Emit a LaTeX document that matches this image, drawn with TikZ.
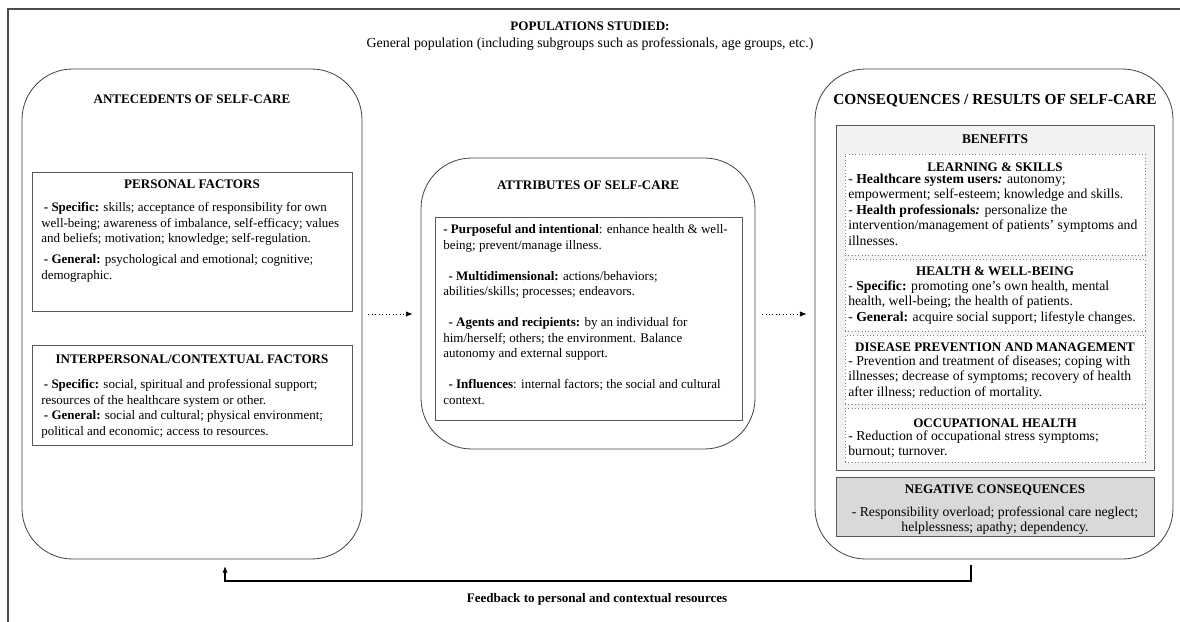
\documentclass[tikz,border=0pt]{standalone}
\usepackage{fontspec}
\setmainfont{Liberation Serif}
\usetikzlibrary{fit,arrows.meta}

\tikzset{
  frame/.style={draw=black!70, line width=1.3pt},
  bigbox/.style={draw=black!75, line width=0.6pt, rounded corners=38pt, inner sep=0pt},
  factbox/.style={draw=black!65, line width=0.5pt, inner sep=0pt},
  dotbox/.style={draw=black!50, dotted, line width=0.5pt, fill=white, inner sep=0pt},
  headtxt/.style={font=\fontsize{9.8}{11.6}\selectfont\bfseries, inner sep=0pt},
  subtxt/.style={font=\fontsize{9.8}{11.6}\selectfont\bfseries, inner sep=0pt},
  bodytxt/.style={font=\fontsize{9.75}{11.6}\selectfont, inner sep=0pt, align=left, anchor=north west},
  rbodytxt/.style={bodytxt, font=\fontsize{10.3}{11.6}\selectfont},
  flowarrow/.style={dotted, line width=0.6pt, -{Latex[length=5pt,width=4pt]}},
  fbarrow/.style={line width=0.9pt, -{Latex[length=5pt,width=4pt]}},
}

\begin{document}
\begin{tikzpicture}[x=0.75pt,y=0.75pt,yscale=-1,xscale=1]
\useasboundingbox (0,0) rectangle (1180,621);

%Shape: outer frame
\draw[frame] (8,640) -- (8,9) -- (1200,9);

% Text Node
\node[headtxt] (popTitle) at (590,26) {POPULATIONS STUDIED:};
% Text Node
\node[font=\fontsize{10.4}{12}\selectfont, inner sep=0pt] (popText) at (590,44) {General population (including subgroups such as professionals, age groups, etc.)};

%Shape: Antecedents
\node[bigbox, fit={(22,69) (362,559)}] (ante) {};
\node[headtxt] (anteTitle) at (192,99) {ANTECEDENTS OF SELF-CARE};
\node[factbox, fit={(32,172) (352,311)}] (pers) {};
\node[subtxt] (persTitle) at (192,184) {PERSONAL FACTORS};
\node[bodytxt] (persText) at (41,202.5) {\hspace{2pt}\textbf{- Specific:} skills; acceptance of responsibility for own\\
well-being; awareness of imbalance, self-efficacy; values\\
and beliefs; motivation; knowledge; self-regulation.\\[4pt]
\hspace{2pt}\textbf{- General:} psychological and emotional; cognitive;\\
demographic.};
\node[factbox, fit={(32,345) (352,445)}] (inter) {};
\node[subtxt] (interTitle) at (192,359) {INTERPERSONAL/CONTEXTUAL FACTORS};
\node[bodytxt] (interText) at (41,379.5) {\hspace{2pt}\textbf{- Specific:} social, spiritual and professional support;\\
resources of the healthcare system or other.\\
\hspace{2pt}\textbf{- General:} social and cultural; physical environment;\\
political and economic; access to resources.};

%Shape: Attributes
\node[bigbox, fit={(421,158) (755,449)}] (attr) {};
\node[headtxt] (attrTitle) at (588,185) {ATTRIBUTES OF SELF-CARE};
\node[factbox, fit={(435,217) (742,420)}] (attrIn) {};
\node[bodytxt] (attrText) at (443,224.5) {\textbf{- Purposeful and intentional}: enhance health \& well-\\
being; prevent/manage illness.\\[11.6pt]
\hspace{4pt}\textbf{- Multidimensional:} actions/behaviors;\\
abilities/skills; processes; endeavors.\\[11.6pt]
\hspace{4pt}\textbf{- Agents and recipients:} by an individual for\\
him/herself; others; the environment. Balance\\
autonomy and external support.\\[11.6pt]
\hspace{4pt}\textbf{- Influences}: internal factors; the social and cultural\\
context.};

%Shape: Consequences
\node[bigbox, fit={(815,69) (1173,559)}] (cons) {};
\node[headtxt, font=\fontsize{11.5}{12}\selectfont\bfseries] (consTitle) at (995,101) {CONSEQUENCES / RESULTS OF SELF-CARE};
\node[factbox, fill=black!5, fit={(836,125) (1154,470)}] (bene) {};
\node[headtxt, font=\fontsize{10}{12}\selectfont\bfseries] (beneTitle) at (995,139) {BENEFITS};

\node[dotbox, fit={(845,154) (1145,255)}] (learn) {};
\node[subtxt] (learnTitle) at (995,167) {LEARNING \& SKILLS};
\node[rbodytxt] (learnText) at (848,173.5) {- \textbf{Healthcare system users\textit{:}} autonomy;\\
empowerment; self-esteem; knowledge and skills.\\
- \textbf{Health professionals\textit{:}} personalize the\\
intervention/management of patients’ symptoms and\\
illnesses.};

\node[dotbox, fit={(845,259) (1145,331)}] (health) {};
\node[subtxt] (healthTitle) at (995,271) {HEALTH \& WELL-BEING};
\node[rbodytxt] (healthText) at (848,280.5) {- \textbf{Specific:} promoting one’s own health, mental\\
health, well-being; the health of patients.\\
- \textbf{General:} acquire social support; lifestyle changes.};

\node[dotbox, fit={(845,335) (1145,404)}] (disease) {};
\node[subtxt] (diseaseTitle) at (995,347) {DISEASE PREVENTION AND MANAGEMENT};
\node[rbodytxt] (diseaseText) at (848,355.5) {- Prevention and treatment of diseases; coping with\\
illnesses; decrease of symptoms; recovery of health\\
after illness; reduction of mortality.};

\node[dotbox, fit={(845,408) (1145,462)}] (occup) {};
\node[subtxt] (occupTitle) at (995,423) {OCCUPATIONAL HEALTH};
\node[rbodytxt] (occupText) at (848,430.5) {- Reduction of occupational stress symptoms;\\
burnout; turnover.};

\node[factbox, fill=black!15, fit={(836,477) (1154,536)}] (neg) {};
\node[subtxt] (negTitle) at (995,490) {NEGATIVE CONSEQUENCES};
\node[rbodytxt, align=center, anchor=north] (negText) at (995,506.5) {- Responsibility overload; professional care neglect;\\
helplessness; apathy; dependency.};

%Straight Lines
\draw[flowarrow, shorten <=4.5pt, shorten >=6pt] (ante.east) -- (ante.east -| attr.west);
\draw[flowarrow, shorten <=5pt, shorten >=6pt] (ante.east -| attr.east) -- (cons.west);

%Feedback line
\coordinate (fbStart) at (971,565);
\coordinate (fbEnd) at (225,566);
\draw[fbarrow] (fbStart) -- ++(0,16) -| (fbEnd);
% Text Node
\node[headtxt] (fbText) at (597,599) {Feedback to personal and contextual resources};

\end{tikzpicture}
\end{document}
